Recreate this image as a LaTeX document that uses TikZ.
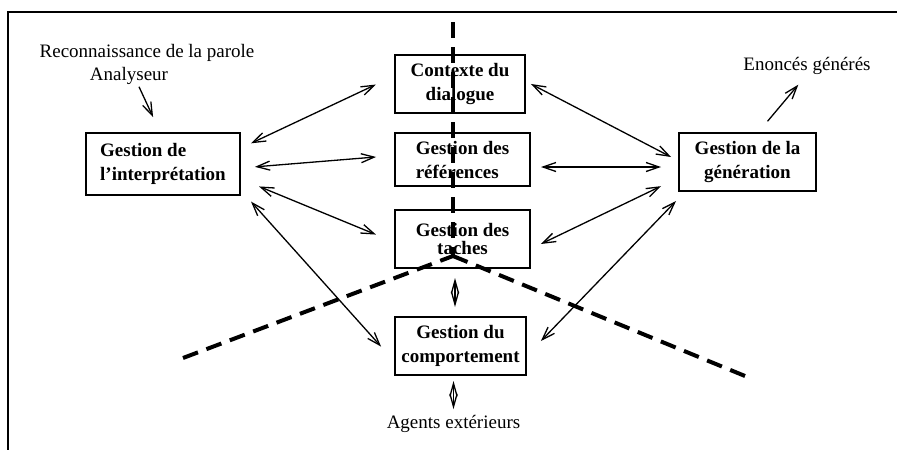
\documentclass[tikz,border=0pt]{standalone}
\usepackage{fontspec}
\setmainfont{Liberation Serif}
\usetikzlibrary{arrows.meta,calc}
\tikzset{
  >={Straight Barb[length=6.5pt,width=4.5pt]},
  every picture/.style={line width=0.65pt,font=\fontsize{9.5}{12}\selectfont},
  bx/.style={draw,line width=1pt,font=\fontsize{9.5}{12}\selectfont\bfseries,inner sep=0pt,align=center},
  arr/.style={<->},
  varr/.style={<->,>={Straight Barb[length=6.5pt,width=3.6pt]}},
  lab/.style={inner sep=1pt,anchor=base},
  cut/.style={line width=2pt,dash pattern=on 8pt off 4.5pt},
  frm/.style={line width=0.75pt},
}
\begin{document}
\begin{tikzpicture}[x=0.5pt,y=-0.5pt]
  \useasboundingbox (0,0) rectangle (897,450);
  \draw[frm] (897,12) -- (8,12) -- (8,450);
  % modules
  \node[bx,align=left,minimum width=77pt,minimum height=31pt] (interp) at (163,164) {Gestion de\\l’interprétation};
  \node[bx,minimum width=65pt,minimum height=29pt] (ctx) at (460,84) {Contexte du\\dialogue};
  \node[bx,align=left,minimum width=67.5pt,minimum height=26.5pt] (ref) at (462.5,159.5) {Gestion des\\références};
  \node[bx,font=\fontsize{9.5}{9}\selectfont\bfseries,minimum width=67.5pt,minimum height=29pt] (tac) at (462.5,239) {Gestion des\\taches};
  \node[bx,minimum width=65.5pt,minimum height=29pt] (comp) at (460.5,346) {Gestion du\\comportement};
  \node[bx,minimum width=68.5pt,minimum height=29pt] (gen) at (747.5,162) {Gestion de la\\génération};
  % inputs and outputs
  \node[lab] (reco) at (147,57) {Reconnaissance de la parole};
  \node[lab] (ana) at (129,80) {Analyseur};
  \node[lab] (eno) at (807,70) {Enoncés générés};
  \node[lab] (agents) at (453.5,428) {Agents extérieurs};
  \draw[->,shorten >=8.2pt] ($(ana.south)+(10,0)$) -- ($(interp.north)+(-3,0)$);
  \draw[->,shorten <=7pt,shorten >=5.2pt] ($(gen.north)+(11,0)$) -- ($(eno.south)+(-2,0)$);
  % exchanges
  \draw[arr,shorten <=5.5pt,shorten >=10pt] ($(interp.east)+(0,-16)$) -- ($(ctx.west)+(0,-8)$);
  \draw[arr,shorten <=7pt,shorten >=9pt] ($(interp.east)+(0,4)$) -- ($(ref.west)+(0,-4)$);
  \draw[arr,shorten <=9.75pt,shorten >=9.75pt] ($(interp.east)+(0,15)$) -- ($(tac.west)+(0,3)$);
  \draw[arr,shorten <=3.75pt,shorten >=9.7pt] ($(interp.south east)+(5,0)$) -- ($(comp.west)+(0,15)$);
  \draw[arr,shorten <=2.8pt,shorten >=3.9pt] ($(ctx.east)+(0,-2.6)$) -- ($(gen.west)+(0,-1.4)$);
  \draw[arr,shorten <=5pt,shorten >=8.5pt] ($(ref.east)+(0,7.5)$) -- ($(gen.west)+(0,5)$);
  \draw[arr,shorten <=5.5pt,shorten >=9.4pt] ($(tac.east)+(0,9.75)$) -- ($(gen.west)+(0,16)$);
  \draw[arr,shorten <=10pt,shorten >=6.25pt] ($(comp.east)+(0,9.4)$) -- ($(gen.south west)+(6.7,0)$);
  \draw[varr,shorten <=4.5pt,shorten >=4.5pt] ($(tac.south)+(-7.5,0)$) -- ($(comp.north)+(-5.5,0)$);
  \draw[varr,shorten <=2.5pt,shorten >=1.5pt] (agents.north |- comp.south) -- (agents.north);
  % cut lines
  \coordinate (hub) at (453,256);
  \coordinate (vtop) at (453,22);
  \coordinate (lend) at (183,358);
  \coordinate (rend) at (745,376);
  \draw[cut] (vtop) -- (hub);
  \draw[cut] (lend) -- (hub);
  \draw[cut] (rend) -- (hub);
\end{tikzpicture}
\end{document}
